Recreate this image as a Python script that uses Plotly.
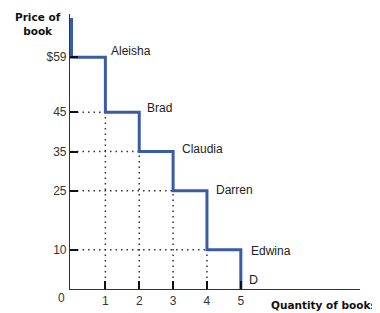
import plotly.graph_objects as go

# ---- data ----
buyers = ["Aleisha", "Brad", "Claudia", "Darren", "Edwina"]
quantity = [1, 2, 3, 4, 5]
willingness_to_pay = [59, 45, 35, 25, 10]
price_top = 69
price_tick_labels = ["$59", "45", "35", "25", "10"]
qty_tick_labels = ["1", "2", "3", "4", "5"]
curve_label = "D"

BLUE = "#3a5ba8"
FONT = "Liberation Sans, Arial, sans-serif"
BOLD_FONT = "DejaVu Sans, Verdana, sans-serif"

fig = go.Figure()

# dotted guide lines (horizontal from axis to the step corner, vertical from corner to axis)
for q, p in zip(quantity[:-1], willingness_to_pay[1:]):
    fig.add_trace(go.Scatter(
        x=[0, q], y=[p, p], mode="lines",
        line=dict(color="#333", width=1.5, dash="1.5px,4px"),
        hoverinfo="skip", showlegend=False))
for q, p in zip(quantity[:-1], willingness_to_pay[1:]):
    fig.add_trace(go.Scatter(
        x=[q, q], y=[0, p], mode="lines",
        line=dict(color="#333", width=1.5, dash="1.5px,4px"),
        hoverinfo="skip", showlegend=False))

# demand step curve
step_x = [0] + quantity + [quantity[-1]]
step_y = [price_top] + willingness_to_pay + [0]
fig.add_trace(go.Scatter(
    x=step_x, y=step_y, mode="lines", line_shape="vh",
    line=dict(color=BLUE, width=3), hoverinfo="skip", showlegend=False))

# buyer labels
xshifts = [4, 6, 7, 7, 8]
yshifts = [6, 4, 3, 1, -1]
for name, q, p, xs, ys in zip(buyers, quantity, willingness_to_pay, xshifts, yshifts):
    fig.add_annotation(x=q, y=p, text=name, showarrow=False, xanchor="left",
                       yanchor="middle", xshift=xs, yshift=ys,
                       font=dict(family=FONT, size=12, color="#222"))
fig.add_annotation(x=quantity[-1], y=0, text=curve_label, showarrow=False,
                   xanchor="left", yanchor="middle", xshift=6, yshift=9,
                   font=dict(family=FONT, size=12.5, color="#222"))

# axis titles and origin label
fig.add_annotation(xref="paper", yref="paper", x=-0.11, y=0.962, text="<b>Price of<br>book</b>",
                   showarrow=False, xanchor="center", yanchor="middle",
                   font=dict(family=BOLD_FONT, size=10.5, color="#111"))
fig.add_annotation(xref="paper", yref="paper", x=1.064, y=-0.058, text="<b>Quantity of books</b>",
                   showarrow=False, xanchor="right", yanchor="middle",
                   font=dict(family=BOLD_FONT, size=10.5, color="#111"))
fig.add_annotation(xref="paper", yref="paper", x=-0.028, y=-0.033, text="0",
                   showarrow=False, xanchor="center", yanchor="middle",
                   font=dict(family=FONT, size=12, color="#333"))

# faint table edge at the right border
def px2x(px):
    return (px - 70) / 290
def py2y(py):
    return (289 - py) / 275

fig.add_shape(type="rect", xref="paper", yref="paper",
              x0=px2x(375), x1=px2x(381), y0=py2y(79), y1=py2y(41),
              fillcolor="#f3e9e4", line=dict(width=0), layer="above")
fig.add_shape(type="rect", xref="paper", yref="paper",
              x0=px2x(375), x1=px2x(377), y0=py2y(182), y1=py2y(41),
              fillcolor="#e8d6cd", line=dict(width=0), layer="above")
for ry in [99, 120, 140, 159, 181]:
    fig.add_shape(type="line", xref="paper", yref="paper",
                  x0=px2x(376), x1=px2x(381), y0=py2y(ry), y1=py2y(ry),
                  line=dict(color="#e8d6cd", width=1.5))

fig.update_xaxes(range=[-0.045, 8.52], showgrid=False, zeroline=False,
                 showline=True, linecolor="#333", linewidth=1.2,
                 tickmode="array", tickvals=quantity, ticktext=qty_tick_labels,
                 ticks="inside", ticklen=8, tickwidth=1.5, tickcolor="#111",
                 tickfont=dict(family=FONT, size=12, color="#333"))
fig.update_yaxes(range=[0, 70], showgrid=False, zeroline=False,
                 showline=True, linecolor="#333", linewidth=1.2,
                 tickmode="array", tickvals=willingness_to_pay, ticktext=price_tick_labels,
                 ticks="inside", ticklen=8, tickwidth=1.5, tickcolor="#111",
                 tickfont=dict(family=FONT, size=12, color="#333"))

# page body adds an 8px margin, so the figure is drawn 8px smaller and shifted
fig.update_layout(width=372, height=305,
                  margin=dict(l=62, r=20, t=6, b=24),
                  paper_bgcolor="white", plot_bgcolor="white")

fig.write_html("out.html")
